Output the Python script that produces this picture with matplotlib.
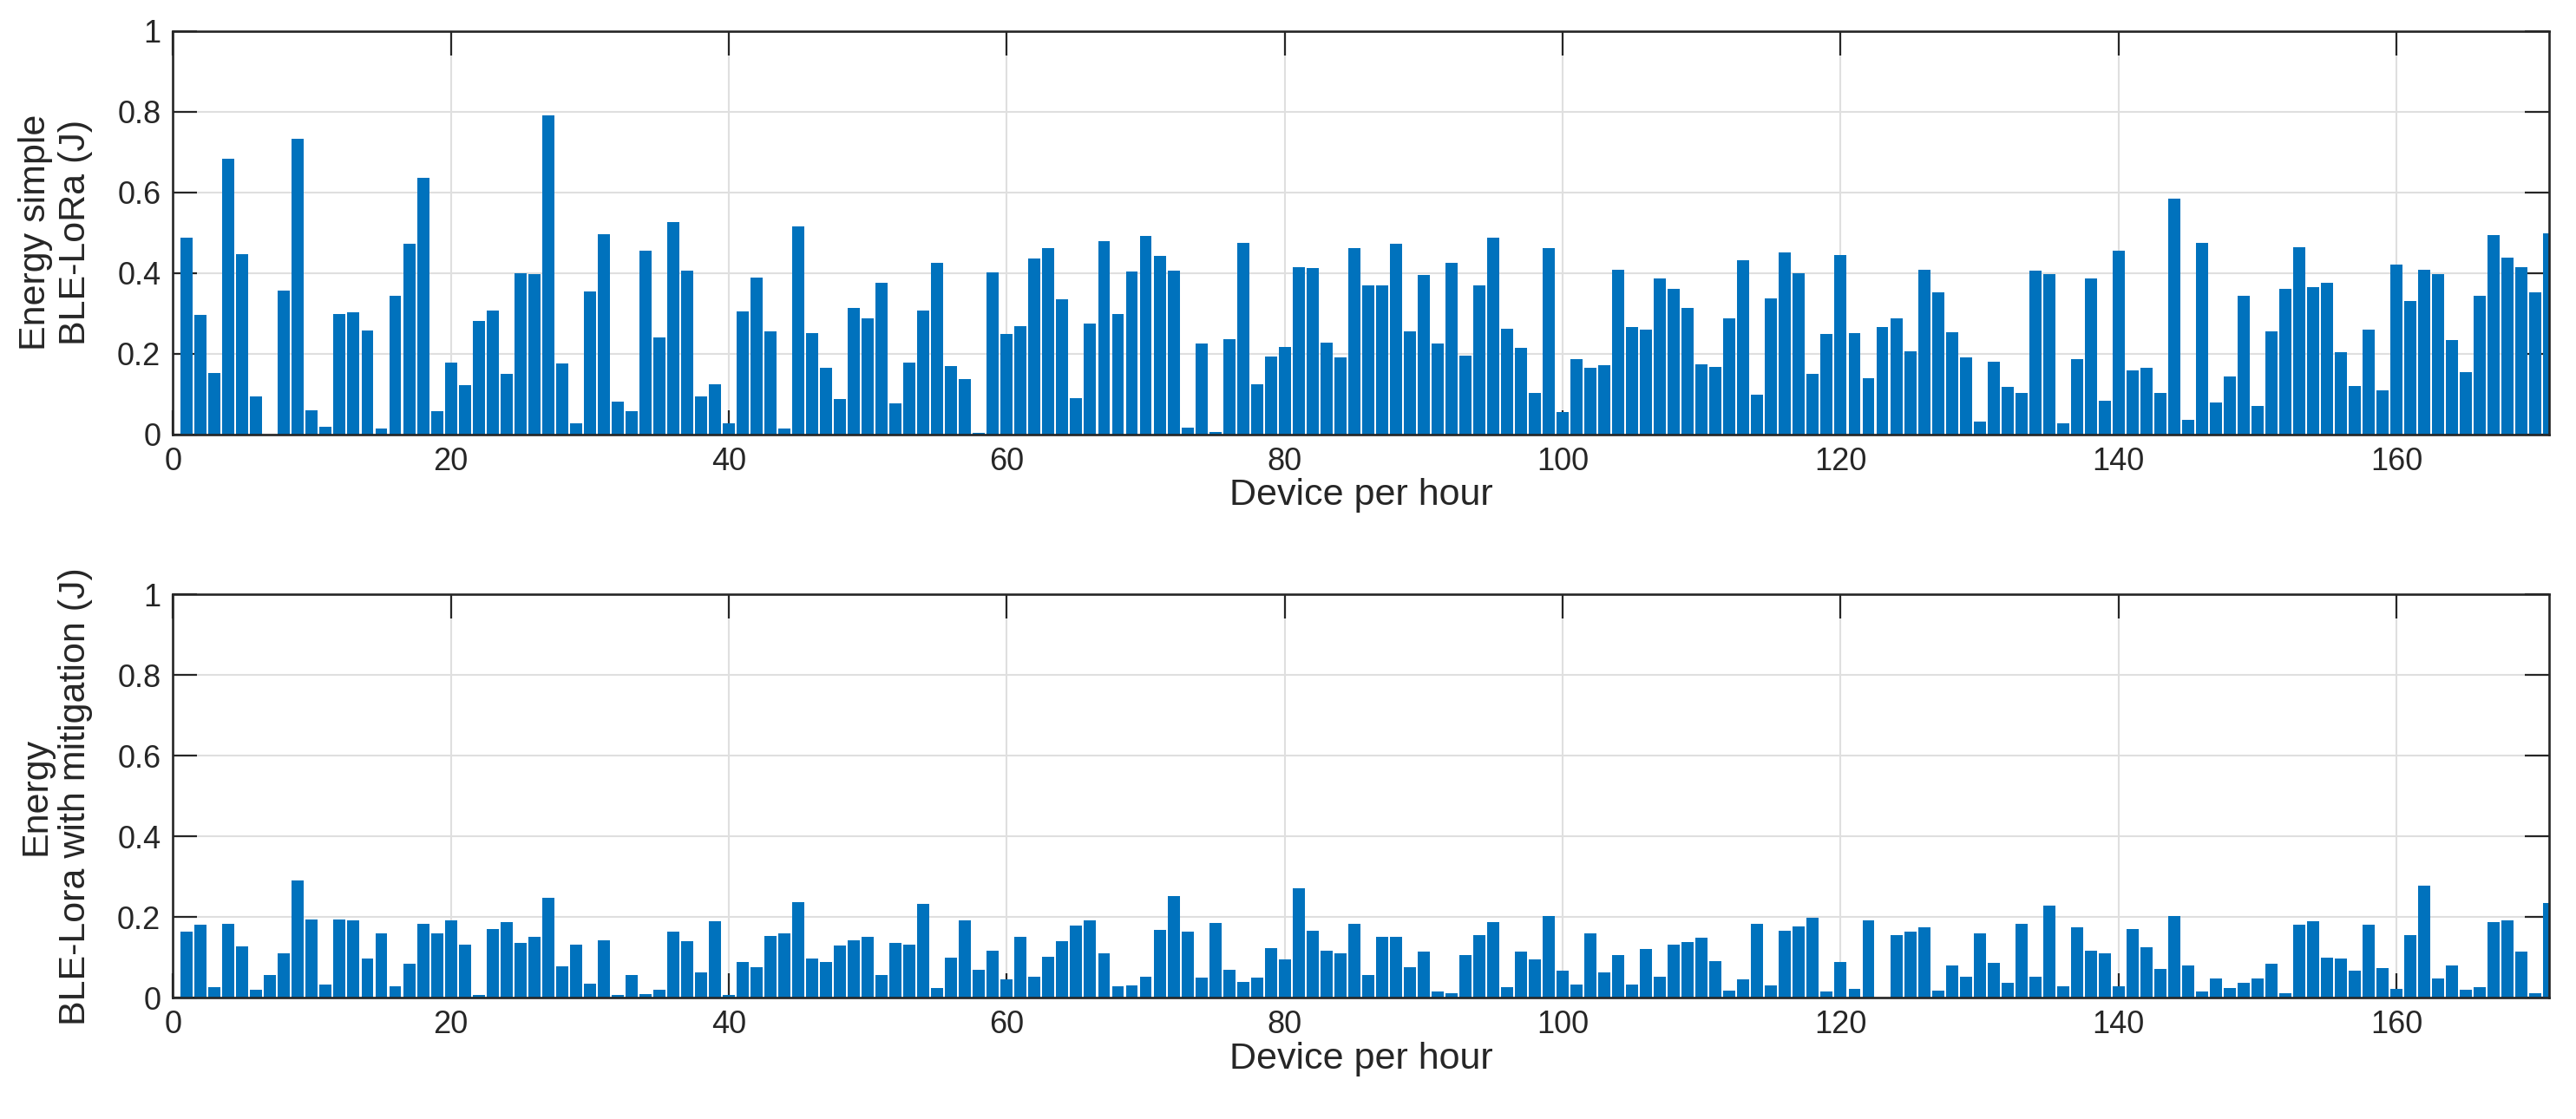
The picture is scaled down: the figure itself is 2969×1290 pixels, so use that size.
import numpy as np
import matplotlib
matplotlib.use('Agg')
import matplotlib.pyplot as plt

plt.rcParams['font.family'] = ['Liberation Sans', 'DejaVu Sans']

# devices 1..171
devices = np.arange(1, 172)

# energy simple BLE-LoRa (J)
energy_simple = [
    0.487, 0.296, 0.152, 0.683, 0.447, 0.094, 0.000, 0.356, 0.733, 0.059,
    0.019, 0.298, 0.303, 0.257, 0.014, 0.343, 0.472, 0.636, 0.057, 0.178,
    0.122, 0.281, 0.307, 0.150, 0.399, 0.397, 0.791, 0.176, 0.027, 0.354,
    0.496, 0.081, 0.057, 0.455, 0.240, 0.526, 0.406, 0.094, 0.124, 0.027,
    0.305, 0.389, 0.255, 0.014, 0.515, 0.251, 0.165, 0.087, 0.313, 0.287,
    0.376, 0.077, 0.178, 0.307, 0.425, 0.169, 0.137, 0.004, 0.401, 0.249,
    0.268, 0.436, 0.462, 0.335, 0.090, 0.275, 0.479, 0.298, 0.404, 0.492,
    0.442, 0.406, 0.016, 0.225, 0.006, 0.236, 0.475, 0.124, 0.193, 0.216,
    0.414, 0.412, 0.227, 0.191, 0.462, 0.369, 0.369, 0.472, 0.255, 0.395,
    0.225, 0.425, 0.195, 0.369, 0.487, 0.262, 0.214, 0.103, 0.462, 0.055,
    0.186, 0.165, 0.171, 0.408, 0.266, 0.260, 0.386, 0.361, 0.313, 0.173,
    0.167, 0.287, 0.432, 0.098, 0.337, 0.451, 0.399, 0.150, 0.249, 0.444,
    0.251, 0.139, 0.266, 0.287, 0.206, 0.408, 0.352, 0.253, 0.191, 0.032,
    0.180, 0.118, 0.103, 0.406, 0.397, 0.027, 0.186, 0.386, 0.083, 0.455,
    0.158, 0.165, 0.103, 0.584, 0.036, 0.475, 0.079, 0.143, 0.343, 0.070,
    0.255, 0.361, 0.464, 0.365, 0.376, 0.204, 0.120, 0.260, 0.109, 0.421,
    0.330, 0.408, 0.397, 0.234, 0.154, 0.343, 0.494, 0.438, 0.414, 0.352,
    0.498,
]

# energy BLE-Lora with mitigation (J)
energy_mitig = [
    0.164, 0.181, 0.027, 0.184, 0.128, 0.020, 0.057, 0.110, 0.291, 0.194,
    0.033, 0.194, 0.192, 0.097, 0.160, 0.029, 0.085, 0.184, 0.160, 0.192,
    0.132, 0.007, 0.171, 0.188, 0.136, 0.151, 0.248, 0.078, 0.132, 0.035,
    0.143, 0.007, 0.057, 0.009, 0.020, 0.164, 0.141, 0.063, 0.190, 0.007,
    0.089, 0.076, 0.153, 0.160, 0.237, 0.097, 0.089, 0.130, 0.143, 0.151,
    0.057, 0.136, 0.132, 0.233, 0.024, 0.100, 0.192, 0.070, 0.117, 0.046,
    0.151, 0.052, 0.102, 0.141, 0.179, 0.192, 0.110, 0.029, 0.031, 0.052,
    0.168, 0.252, 0.164, 0.050, 0.186, 0.070, 0.039, 0.050, 0.123, 0.095,
    0.272, 0.166, 0.117, 0.110, 0.184, 0.057, 0.151, 0.151, 0.076, 0.115,
    0.016, 0.011, 0.106, 0.156, 0.188, 0.027, 0.115, 0.095, 0.203, 0.067,
    0.033, 0.160, 0.063, 0.106, 0.033, 0.121, 0.052, 0.132, 0.138, 0.149,
    0.091, 0.018, 0.046, 0.184, 0.031, 0.166, 0.177, 0.199, 0.016, 0.089,
    0.022, 0.192, 0.000, 0.156, 0.164, 0.175, 0.018, 0.080, 0.052, 0.160,
    0.087, 0.037, 0.184, 0.052, 0.229, 0.029, 0.175, 0.117, 0.110, 0.029,
    0.171, 0.125, 0.072, 0.203, 0.080, 0.016, 0.048, 0.024, 0.037, 0.048,
    0.085, 0.011, 0.181, 0.190, 0.100, 0.097, 0.067, 0.181, 0.074, 0.022,
    0.156, 0.278, 0.048, 0.080, 0.020, 0.027, 0.188, 0.192, 0.115, 0.011,
    0.235,
]

ylabels = ['Energy simple\nBLE-LoRa (J)', 'Energy\nBLE-Lora with mitigation (J)']
xticks = [0, 20, 40, 60, 80, 100, 120, 140, 160]
yticks = [0, 0.2, 0.4, 0.6, 0.8, 1]
ytick_labels = ['0', '0.2', '0.4', '0.6', '0.8', '1']

bar_color = '#0072BD'
axis_color = '#262626'

fig = plt.figure(figsize=(29.69, 12.90), dpi=100)
ax1 = fig.add_axes([0.0671, 0.6119, 0.9226, 0.3603])
ax2 = fig.add_axes([0.0671, 0.1083, 0.9226, 0.3605])

for ax, vals, lab in zip([ax1, ax2], [energy_simple, energy_mitig], ylabels):
    ax.bar(devices, vals, width=0.87, color=bar_color, linewidth=0)
    ax.set_xlim(0, 171)
    ax.set_ylim(0, 1)
    ax.set_xticks(xticks)
    ax.set_yticks(yticks)
    ax.set_yticklabels(ytick_labels)
    ax.set_axisbelow(True)
    ax.grid(True, color='#dfdfdf', linewidth=1.5)
    ax.tick_params(direction='in', length=20, width=1.6, top=True, right=True,
                   labelsize=26, colors=axis_color, pad=10)
    for sp in ax.spines.values():
        sp.set_linewidth(1.9)
        sp.set_color(axis_color)
    ax.set_xlabel('Device per hour', fontsize=31, color=axis_color, labelpad=1)
    ax.set_ylabel(lab, fontsize=31, color=axis_color, labelpad=20, linespacing=1.2)

fig.savefig('out.png', dpi=100)
